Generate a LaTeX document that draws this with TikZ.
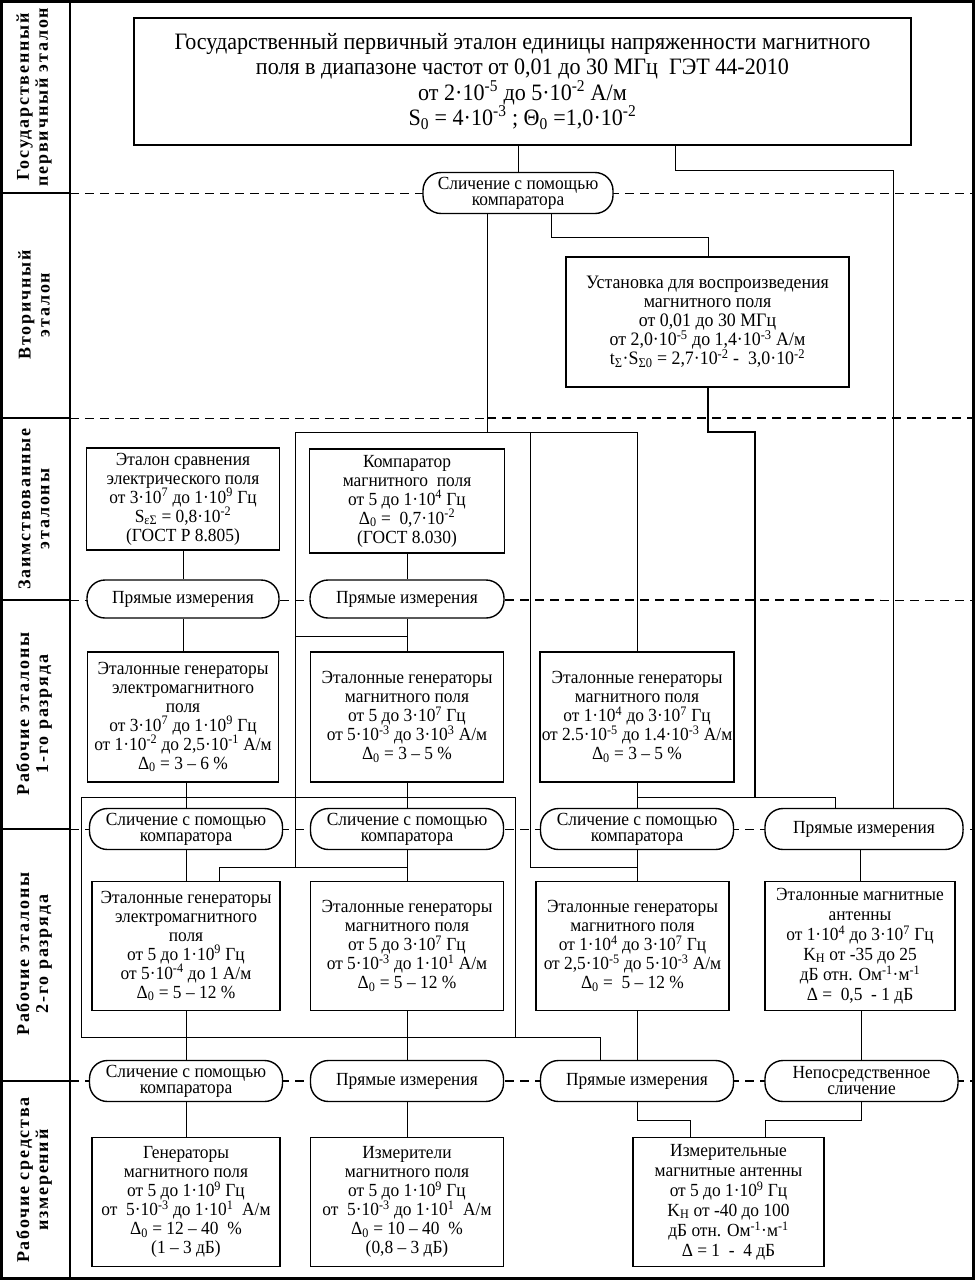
\documentclass[tikz,border=0pt]{standalone}
\usepackage{fontspec}
\setmainfont{Liberation Serif}
\newfontfamily\bxf[FakeStretch=0.94]{Liberation Serif}
\newfontfamily\lbf[LetterSpace=10]{Liberation Serif}
\newcommand\su[1]{\textsuperscript{#1}}
\newcommand\sbt[1]{\textsubscript{#1}}
\tikzset{
  box/.style={draw, line width=1.8pt, fill=white, align=center, inner sep=1pt,
    font=\bxf\fontsize{18.5}{19}\selectfont},
  pill/.style={draw, line width=1.4pt, fill=white, align=center, rounded corners=18pt,
    inner sep=0pt, minimum height=41pt, minimum width=193pt,
    font=\bxf\fontsize{18.5}{16}\selectfont},
  ln/.style={line width=1pt},
  lnb/.style={line width=2pt},
  dsh/.style={dash pattern=on 9pt off 6pt, line width=1pt},
  dshb/.style={dash pattern=on 9pt off 6pt, line width=2pt},
  lab/.style={rotate=90, align=center, inner sep=0pt,
    font=\lbf\bfseries\fontsize{18}{19}\selectfont}
}
\begin{document}
\begin{tikzpicture}[x=1pt,y=-1pt]
\useasboundingbox (0,0) rectangle (975,1280);
% frame and bands
\draw[line width=3pt] (1.5,1.5) rectangle (973.5,1278.5);
\draw[line width=1.5pt] (70,0) -- (70,1280);
\foreach \yy in {193,418,600,829,1081} { \draw[line width=1.5pt] (0,\yy) -- (70,\yy); }
\draw[dsh] (70,193) -- (973,193);
\draw[dsh] (70,418) -- (487,418);
\draw[dshb] (487,418) -- (973,418);
\draw[dsh] (70,600) -- (505,600);
\draw[dshb] (505,600) -- (880,600);
\draw[dsh] (880,600) -- (973,600);
\draw[dsh] (70,829) -- (973,829);
\draw[dshb] (70,1081) -- (973,1081);
% band labels
\node[lab] (L1) at (34,97) {Государственный\\первичный эталон};
\node[lab] (L2) at (34,305) {Вторичный\\эталон};
\node[lab] (L3) at (34,509) {Заимствованные\\эталоны};
\node[lab] (L4) at (34,714) {Рабочие эталоны\\1-го разряда};
\node[lab] (L5) at (34,954) {Рабочие эталоны\\2-го разряда};
\node[lab] (L6) at (34,1180) {Рабочие средства\\измерений};
% top
\node[box, minimum width=777pt, minimum height=127pt, font=\bxf\fontsize{23.5}{25.5}\selectfont] (top) at (522.5,81.5)
 {Государственный первичный эталон единицы напряженности магнитного\\
  поля в диапазоне частот от 0,01 до 30 МГц\ \ ГЭТ 44-2010\\
  от 2·10\su{-5} до 5·10\su{-2} А/м\\
  S\sbt{0} = 4·10\su{-3} ; Θ\sbt{0} =1,0·10\su{-2}};
\node[pill, minimum width=190pt] (pill0) at (518,193) {Сличение с помощью\\компаратора};
\node[box, minimum width=283pt, minimum height=130pt, font=\bxf\fontsize{19}{19}\selectfont] (ust) at (707.5,322)
 {Установка для воспроизведения\\магнитного поля\\от 0,01 до 30 МГц\\
  от 2,0·10\su{-5} до 1,4·10\su{-3} А/м\\t\sbt{Σ}·S\sbt{Σ0} = 2,7·10\su{-2} -\ \ 3,0·10\su{-2}};
% band 3
\node[box, minimum width=193pt, minimum height=102pt] (B31) at (183,499)
 {Эталон сравнения\\электрического поля\\от 3·10\su{7} до 1·10\su{9} Гц\\
  S\sbt{εΣ} = 0,8·10\su{-2}\\(ГОСТ Р 8.805)};
\node[box, minimum width=195pt, minimum height=104pt] (B32) at (407,501)
 {Компаратор\\магнитного\ \ поля\\от 5 до 1·10\su{4} Гц\\
  Δ\sbt{0} =\ \ 0,7·10\su{-2}\\(ГОСТ 8.030)};
\node[pill, minimum width=192pt, minimum height=38pt] (P31) at (183,599) {Прямые измерения};
\node[pill, minimum width=194pt, minimum height=38pt] (P32) at (407,599) {Прямые измерения};
% band 4
\node[box, minimum width=191pt, minimum height=130pt] (B41) at (183,717)
 {Эталонные генераторы\\электромагнитного\\поля\\от 3·10\su{7} до 1·10\su{9} Гц\\
  от 1·10\su{-2} до 2,5·10\su{-1} А/м\\Δ\sbt{0} = 3 – 6 \%};
\node[box, minimum width=193pt, minimum height=130pt] (B42) at (407,717)
 {Эталонные генераторы\\магнитного поля\\от 5 до 3·10\su{7} Гц\\
  от 5·10\su{-3} до 3·10\su{3} А/м\\Δ\sbt{0} = 3 – 5 \%};
\node[box, minimum width=194pt, minimum height=130pt] (B43) at (637,717)
 {Эталонные генераторы\\магнитного поля\\от 1·10\su{4} до 3·10\su{7} Гц\\
  от 2.5·10\su{-5} до 1.4·10\su{-3} А/м\\Δ\sbt{0} = 3 – 5 \%};
\node[pill] (P41) at (186,829) {Сличение с помощью\\компаратора};
\node[pill] (P42) at (407,829) {Сличение с помощью\\компаратора};
\node[pill] (P43) at (637,829) {Сличение с помощью\\компаратора};
\node[pill, minimum width=198pt] (P44) at (864,829) {Прямые измерения};
% band 5
\node[box, minimum width=188pt, minimum height=129pt] (B51) at (186,946)
 {Эталонные генераторы\\электромагнитного\\поля\\от 5 до 1·10\su{9} Гц\\
  от 5·10\su{-4} до 1 А/м\\Δ\sbt{0} = 5 – 12 \%};
\node[box, minimum width=193pt, minimum height=129pt] (B52) at (407,946)
 {Эталонные генераторы\\магнитного поля\\от 5 до 3·10\su{7} Гц\\
  от 5·10\su{-3} до 1·10\su{1} А/м\\Δ\sbt{0} = 5 – 12 \%};
\node[box, minimum width=193pt, minimum height=129pt] (B53) at (632.5,946)
 {Эталонные генераторы\\магнитного поля\\от 1·10\su{4} до 3·10\su{7} Гц\\
  от 2,5·10\su{-5} до 5·10\su{-3} А/м\\Δ\sbt{0} =\ \ 5 – 12 \%};
\node[box, minimum width=190pt, minimum height=129pt, font=\bxf\fontsize{18.5}{20}\selectfont] (B54) at (860,946)
 {Эталонные магнитные\\антенны\\от 1·10\su{4} до 3·10\su{7} Гц\\
  K\sbt{H} от -35 до 25\\дБ отн. Ом\su{-1}·м\su{-1}\\Δ =\ \ 0,5\ \ - 1 дБ};
\node[pill] (BP1) at (186,1081) {Сличение с помощью\\компаратора};
\node[pill] (BP2) at (407,1081) {Прямые измерения};
\node[pill] (BP3) at (637,1081) {Прямые измерения};
\node[pill] (BP4) at (861.5,1081) {Непосредственное\\сличение};
% band 6
\node[box, minimum width=188pt, minimum height=129pt] (B61) at (186,1202)
 {Генераторы\\магнитного поля\\от 5 до 1·10\su{9} Гц\\
  от\ \ 5·10\su{-3} до 1·10\su{1}\ \ А/м\\Δ\sbt{0} = 12 – 40\ \ \%\\(1 – 3 дБ)};
\node[box, minimum width=193pt, minimum height=129pt] (B62) at (407,1202)
 {Измерители\\магнитного поля\\от 5 до 1·10\su{9} Гц\\
  от\ \ 5·10\su{-3} до 1·10\su{1}\ \ А/м\\Δ\sbt{0} = 10 – 40\ \ \%\\(0,8 – 3 дБ)};
\node[box, minimum width=191pt, minimum height=129pt, font=\bxf\fontsize{18.5}{20}\selectfont] (B63) at (728.5,1202)
 {Измерительные\\магнитные антенны\\от 5 до 1·10\su{9} Гц\\
  K\sbt{H} от -40 до 100\\дБ отн. Ом\su{-1}·м\su{-1}\\Δ = 1\ \ -\ \ 4 дБ};
% junction coordinates
\coordinate (j1) at (675,170); \coordinate (j2) at (893,170);
\coordinate (k1) at (551,237); \coordinate (k2) at (708,237);
\coordinate (m1) at (708,432); \coordinate (m2) at (755,432); \coordinate (m3) at (755,797);
\coordinate (fA) at (487,432); \coordinate (fL) at (295,432); \coordinate (fR) at (637,432);
\coordinate (fM) at (530,432); \coordinate (fLb) at (295,867); \coordinate (fMb) at (530,867);
\coordinate (q3) at (637,867); \coordinate (h1) at (295,636);
\coordinate (s1) at (219,867);
\coordinate (t0) at (637,797); \coordinate (t1) at (835,797);
\coordinate (r1) at (81,797); \coordinate (r2) at (515,1037); \coordinate (r3) at (600,1037);
\coordinate (u1) at (637,1120); \coordinate (u2) at (690,1120);
\coordinate (v1) at (861,1120); \coordinate (v2) at (765,1120);
% connectors
\draw[ln] (top.south -| pill0) -- (pill0.north);
\draw[ln] (top.south -| j1) -- (j1) -- (j2) -- (j2 |- P44.north);
\draw[ln] (pill0.south -| fA) -- (fA);
\draw[ln] (pill0.south -| k1) -- (k1) -- (k2) -- (k2 |- ust.north);
\draw[lnb] (ust.south -| m1) -- (m1) -- (m2) -- (m3);
\draw[ln] (fLb) -- (fL) -- (fR) -- (fR |- B43.north);
\draw[ln] (fM) -- (fMb) -- (q3);
\draw[ln] (h1) -- (h1 -| P32);
\draw[ln] (B31) -- (P31);
\draw[ln] (P31) -- (P31 |- B41.north);
\draw[ln] (B32) -- (P32);
\draw[ln] (P32) -- (P32 |- B42.north);
\draw[ln] (B41.south -| P41) -- (P41);
\draw[ln] (B42) -- (P42);
\draw[ln] (B43) -- (B43 |- P43.north);
\draw[ln] (t0) -- (t1) -- (t1 |- P44.north);
\draw[ln] (r1) rectangle (r2);
\draw[ln] (r2) -- (r3) -- (r3 |- BP3.north);
\draw[ln] (P41) -- (P41 |- B51.north);
\draw[ln] (B51.north -| s1) -- (s1) -- (s1 -| P42);
\draw[ln] (P42) -- (P42 |- B52.north);
\draw[ln] (P43) -- (P43 |- B53.north);
\draw[ln] (P44.south -| B54) -- (B54);
\draw[ln] (B51.south -| BP1) -- (BP1);
\draw[ln] (B52) -- (BP2);
\draw[ln] (B53.south -| BP3) -- (BP3);
\draw[ln] (B54.south -| BP4) -- (BP4);
\draw[ln] (BP1) -- (BP1 |- B61.north);
\draw[ln] (BP2) -- (BP2 |- B62.north);
\draw[ln] (BP3.south -| u1) -- (u1) -- (u2) -- (u2 |- B63.north);
\draw[ln] (BP4.south -| v1) -- (v1) -- (v2) -- (v2 |- B63.north);
\end{tikzpicture}
\end{document}
